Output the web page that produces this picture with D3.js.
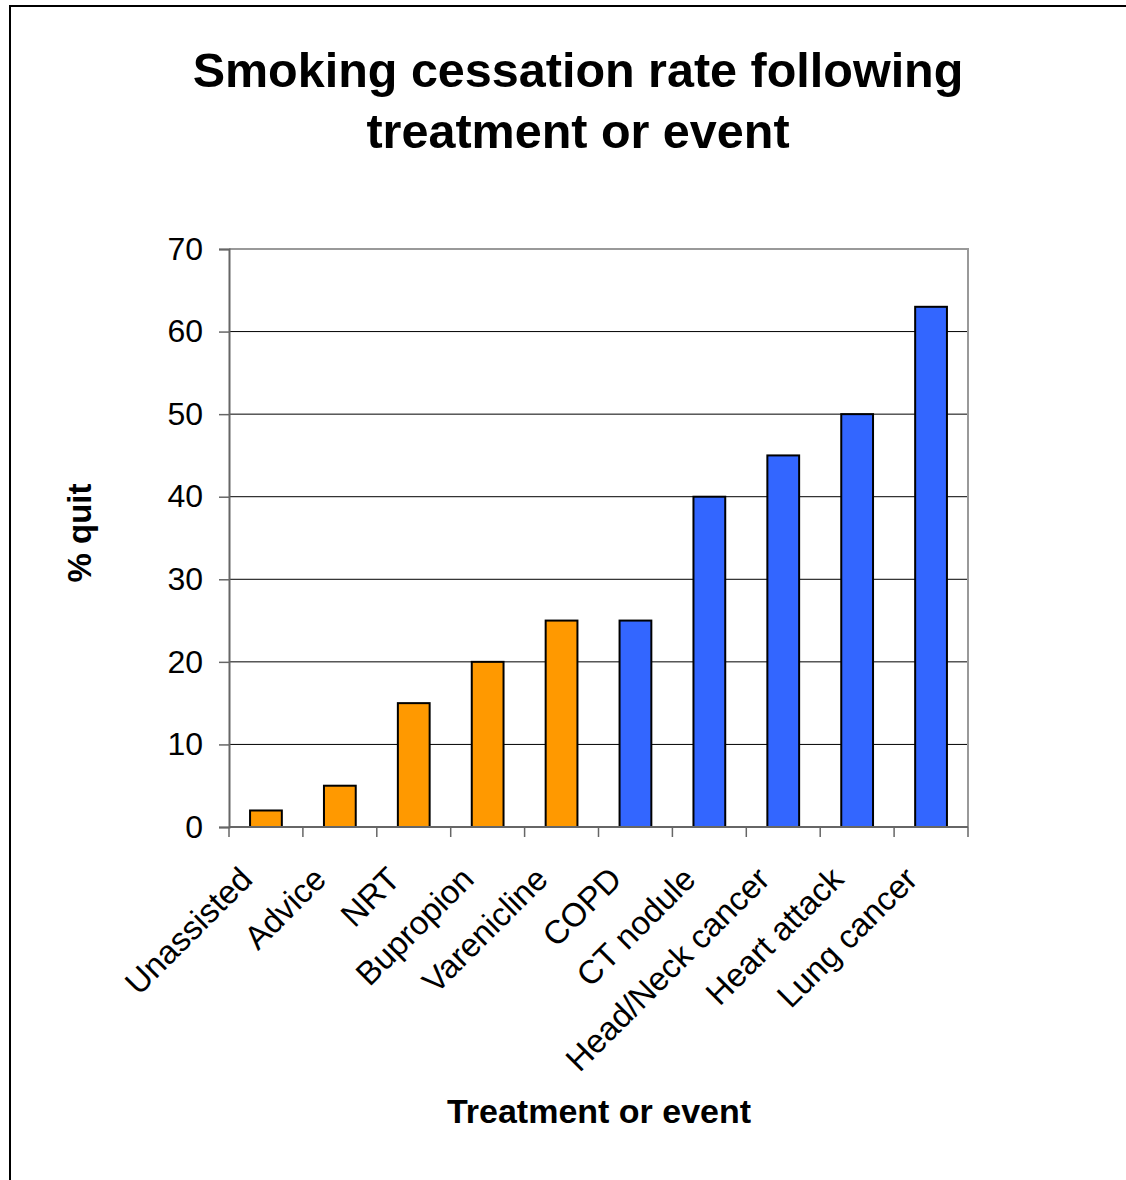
<!DOCTYPE html>
<html>
<head>
<meta charset="utf-8">
<script src="https://cdn.jsdelivr.net/npm/d3@7"></script>
<style>
  html, body { margin: 0; padding: 0; background: #fff; }
  svg { display: block; font-family: "Liberation Sans", Arial, sans-serif; }
</style>
</head>
<body>
<svg id="chart" width="1126" height="1180"></svg>
<script>
// Quit rates by treatment (orange) and by health event (blue)
const categories = ["Unassisted", "Advice", "NRT", "Bupropion", "Varenicline",
                    "COPD", "CT nodule", "Head/Neck cancer", "Heart attack", "Lung cancer"];
const quitRates = [2, 5, 15, 20, 25, 25, 40, 45, 50, 63];
const groups = ["treatment", "treatment", "treatment", "treatment", "treatment",
                "event", "event", "event", "event", "event"];
const yTicks = [0, 10, 20, 30, 40, 50, 60, 70];
const groupColors = { treatment: "#FF9900", event: "#3366FF" };

const svg = d3.select("#chart");
const plot = { left: 229, right: 968, top: 249, bottom: 827 };

// Outer frame
svg.append("rect")
  .attr("x", 10).attr("y", 6).attr("width", 1130).attr("height", 1200)
  .attr("fill", "none").attr("stroke", "#000").attr("stroke-width", 2);

const x = d3.scaleBand().domain(categories).range([plot.left, plot.right]).padding(0);
const y = d3.scaleLinear().domain([0, 70]).range([plot.bottom, plot.top]);

// Gridlines
svg.append("g").selectAll("line")
  .data(yTicks.filter(t => t > 0 && t < 70))
  .join("line")
  .attr("x1", plot.left).attr("x2", plot.right)
  .attr("y1", d => y(d)).attr("y2", d => y(d))
  .attr("stroke", "#000").attr("stroke-width", 1);

// Top and right plot border
svg.append("path")
  .attr("d", `M${plot.left},${y(70)}H${plot.right}V${plot.bottom}`)
  .attr("fill", "none").attr("stroke", "#999").attr("stroke-width", 2);

// Bars
const barW = x.bandwidth() * 0.43;
svg.append("g").selectAll("rect")
  .data(categories.map((c, i) => ({ c, v: quitRates[i], g: groups[i] })))
  .join("rect")
  .attr("x", d => x(d.c) + (x.bandwidth() - barW) / 2)
  .attr("width", barW)
  .attr("y", d => y(d.v))
  .attr("height", d => y(0) - y(d.v))
  .attr("fill", d => groupColors[d.g])
  .attr("stroke", "#000").attr("stroke-width", 2);

// Y axis
const yAxis = svg.append("g")
  .attr("transform", `translate(${plot.left},0)`)
  .call(d3.axisLeft(y).tickValues(yTicks).tickSize(10).tickPadding(16).tickFormat(d3.format("d")));
yAxis.select(".domain").attr("stroke", "#666").attr("stroke-width", 2);
yAxis.selectAll(".tick line").attr("stroke", "#666").attr("stroke-width", 1.5);
yAxis.selectAll(".tick text").attr("font-size", 32).attr("fill", "#000")
  .attr("font-family", "Liberation Sans, Arial, sans-serif");

// X axis: ticks on band boundaries
const xAxisG = svg.append("g");
xAxisG.append("line")
  .attr("x1", plot.left).attr("x2", plot.right)
  .attr("y1", plot.bottom).attr("y2", plot.bottom)
  .attr("stroke", "#666").attr("stroke-width", 2);
const boundaries = categories.map(c => x(c)).concat([plot.right]);
xAxisG.selectAll("line.tick")
  .data(boundaries)
  .join("line").attr("class", "tick")
  .attr("x1", d => d).attr("x2", d => d)
  .attr("y1", plot.bottom).attr("y2", plot.bottom + 10)
  .attr("stroke", "#666").attr("stroke-width", 1.5);

// Rotated category labels
xAxisG.selectAll("text")
  .data(categories)
  .join("text")
  .attr("transform", d => `translate(${x(d) + x.bandwidth() / 2 - 20},${plot.bottom + 46}) rotate(-45)`)
  .attr("text-anchor", "end")
  .attr("dy", "0.35em")
  .attr("font-size", 33)
  .attr("fill", "#000")
  .text(d => d);

// Titles
svg.append("text")
  .attr("x", 578).attr("y", 87).attr("text-anchor", "middle")
  .attr("font-size", 48.5).attr("font-weight", "bold")
  .text("Smoking cessation rate following");
svg.append("text")
  .attr("x", 578).attr("y", 148).attr("text-anchor", "middle")
  .attr("font-size", 48.5).attr("font-weight", "bold")
  .text("treatment or event");

svg.append("text")
  .attr("transform", `translate(91,533) rotate(-90)`)
  .attr("text-anchor", "middle")
  .attr("font-size", 33).attr("font-weight", "bold")
  .text("% quit");

svg.append("text")
  .attr("x", 599).attr("y", 1123).attr("text-anchor", "middle")
  .attr("font-size", 34).attr("font-weight", "bold")
  .text("Treatment or event");
</script>
</body>
</html>
